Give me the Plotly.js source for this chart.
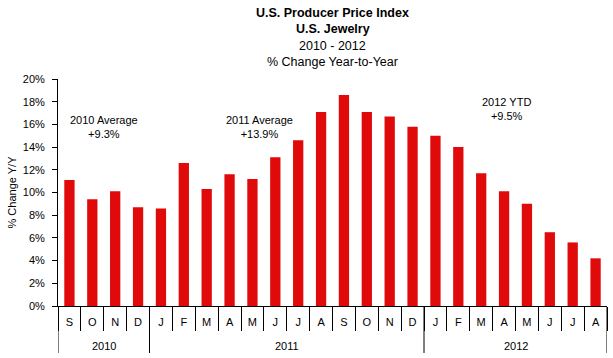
<!DOCTYPE html>
<html>
<head>
<meta charset="utf-8">
<script src="https://cdn.plot.ly/plotly-3.0.1.min.js"></script>
<style>html,body{margin:0;padding:0;background:#fff;}#chart{width:613px;height:358px;}</style>
</head>
<body>
<div id="chart"></div>
<script>
const years = ['2010','2010','2010','2010',
  '2011','2011','2011','2011','2011','2011','2011','2011','2011','2011','2011','2011',
  '2012','2012','2012','2012','2012','2012','2012','2012'];
const months = ['S','O','N','D',
  'J','F','M','A','M','J','J','A','S','O','N','D',
  'J','F','M','A','M','J','J','A'];
const values = [11.1, 9.4, 10.1, 8.7,
  8.6, 12.6, 10.3, 11.6, 11.2, 13.1, 14.6, 17.1, 18.6, 17.1, 16.7, 15.8,
  15.0, 14.0, 11.7, 10.1, 9.0, 6.5, 5.6, 4.2];
const yTicks = [0,2,4,6,8,10,12,14,16,18,20];
const yTickText = yTicks.map(v => v + '%');
const titleLines = ['<b>U.S. Producer Price Index</b>', '<b>U.S. Jewelry</b>', '2010 - 2012', '% Change Year-to-Year'];
const notes = [
  {pos: 1.5, y: 17.1, text: '2010 Average<br>+9.3%'},
  {pos: 8.3, y: 17.1, text: '2011 Average<br>+13.9%'},
  {pos: 19.1, y: 18.7, text: '2012 YTD<br>+9.5%'}
];

const font = 'Arial, "Liberation Sans", sans-serif';
const idx = values.map((_, i) => i);
const trace = {
  type: 'bar',
  x: idx,
  y: values,
  marker: {color: '#E00A0A', line: {width: 0}},
  hoverinfo: 'skip'
};
const plotH = 358 - 79 - 52;
const titleAnn = titleLines.map((t, i) => ({
  xref: 'paper', yref: 'paper', x: 0.5, y: (306 - (13 + i * 16.3)) / plotH,
  xanchor: 'center', yanchor: 'middle', showarrow: false, text: t,
  font: {family: font, size: 12.5, color: '#000'}
}));
// year groups from the data
const groups = [];
years.forEach((y, i) => {
  if (!groups.length || groups[groups.length - 1].year !== y) groups.push({year: y, start: i, end: i});
  else groups[groups.length - 1].end = i;
});
const yearAnn = groups.map(g => ({
  xref: 'x', yref: 'paper', x: (g.start + g.end) / 2, y: -40 / plotH,
  xanchor: 'center', yanchor: 'middle', showarrow: false, text: g.year,
  font: {family: font, size: 11, color: '#000'}
}));
const bounds = [groups[0].start - 0.5].concat(groups.map(g => g.end + 0.5));
const dividers = bounds.map(b => ({
  type: 'line', xref: 'x', yref: 'paper', x0: b, x1: b, y0: 0, y1: -47 / plotH,
  line: {color: '#000', width: 1}
}));
const layout = {
  width: 613, height: 358,
  margin: {l: 58, r: 6, t: 79, b: 52},
  paper_bgcolor: '#fff', plot_bgcolor: '#fff',
  font: {family: font, size: 11, color: '#000'},
  showlegend: false,
  bargap: 0.55,
  xaxis: {
    type: 'linear',
    range: [-0.5, values.length - 0.5],
    tickmode: 'array', tickvals: idx, ticktext: months,
    tickangle: 0, ticklabelstandoff: 6,
    showline: true, linecolor: '#000', linewidth: 1,
    ticks: '', 
    showgrid: false, zeroline: false,
    tickfont: {family: font, size: 11, color: '#000'},
    automargin: false
  },
  xaxis2: {
    overlaying: 'x', matching: 'x', side: 'bottom', anchor: 'y',
    range: [-0.5, values.length - 0.5],
    tickmode: 'array', tickvals: idx.map(i => i - 0.5).concat([values.length - 0.5]),
    showticklabels: false, ticks: 'outside', ticklen: 24, tickcolor: '#000', tickwidth: 1,
    showgrid: false, zeroline: false, showline: false, automargin: false
  },
  yaxis: {
    range: [0, 20],
    tickvals: yTicks, ticktext: yTickText,
    showline: true, linecolor: '#000', linewidth: 1,
    ticks: 'outside', ticklen: 5, tickcolor: '#000',
    ticklabelstandoff: 5,
    showgrid: false, zeroline: false,
    tickfont: {family: font, size: 11, color: '#000'},
    title: {text: '% Change Y/Y', font: {family: font, size: 11, color: '#000'}, standoff: 3},
    automargin: false
  },
  shapes: dividers,
  annotations: titleAnn.concat(yearAnn).concat(notes.map(n => ({
    x: n.pos, y: n.y, xref: 'x', yref: 'y', text: n.text, showarrow: false,
    font: {family: font, size: 11, color: '#000'}, align: 'center', yanchor: 'top'
  })))
};
const ghost = {type: 'scatter', x: [0], y: [0], xaxis: 'x2', yaxis: 'y', mode: 'none', hoverinfo: 'skip', showlegend: false};
Plotly.newPlot('chart', [trace, ghost], layout, {staticPlot: true, displayModeBar: false});
</script>
</body>
</html>
